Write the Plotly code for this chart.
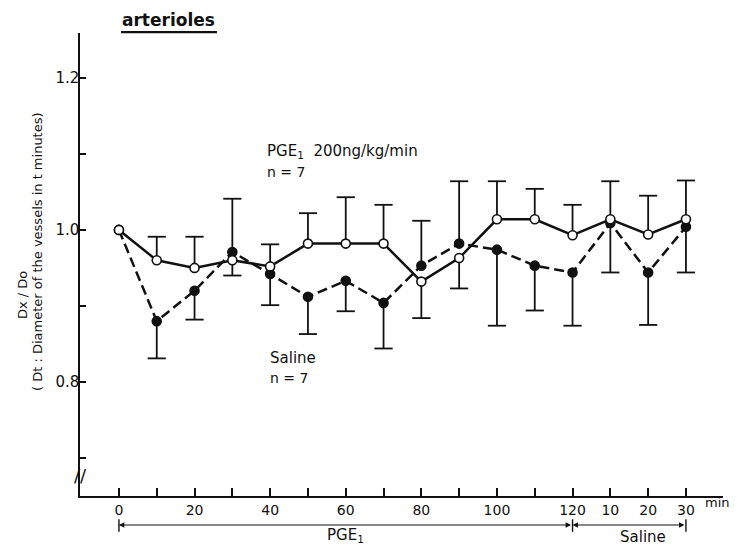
import plotly.graph_objects as go

# ---- data ----
time_min = [0, 10, 20, 30, 40, 50, 60, 70, 80, 90, 100, 110, 120, 130, 140, 150]
tick_vals = [0, 20, 40, 60, 80, 100, 120, 130, 140, 150]
tick_text = ["0", "20", "40", "60", "80", "100", "120", "10", "20", "30"]
minor_x = [10, 30, 50, 70, 90, 110]

pge_mean = [1.0, 0.96, 0.95, 0.96, 0.952, 0.982, 0.982, 0.982, 0.932, 0.963,
            1.014, 1.014, 0.993, 1.014, 0.994, 1.014]
pge_err_up = [0, 0.031, 0.041, 0, 0.029, 0.040, 0.061, 0.051, 0, 0,
              0.050, 0.040, 0.040, 0.050, 0.051, 0.051]
pge_err_down = [0, 0, 0, 0.020, 0, 0, 0, 0, 0.048, 0.040,
                0, 0, 0, 0, 0, 0]

sal_mean = [1.0, 0.88, 0.92, 0.971, 0.942, 0.912, 0.933, 0.904, 0.953, 0.982,
            0.974, 0.953, 0.944, 1.009, 0.944, 1.004]
sal_err_up = [0, 0, 0, 0.070, 0, 0, 0, 0, 0.059, 0.082,
              0, 0, 0, 0, 0, 0]
sal_err_down = [0, 0.049, 0.038, 0, 0.041, 0.049, 0.040, 0.060, 0, 0,
                0.100, 0.059, 0.070, 0.065, 0.069, 0.060]

FONT = "DejaVu Sans"
BLACK = "#111111"

fig = go.Figure()


def add_series(mean, up, down, dash, fill, name):
    fig.add_trace(go.Scatter(
        x=time_min, y=mean, mode="lines+markers", name=name,
        line=dict(color=BLACK, width=2.5, dash=dash),
        marker=dict(symbol="circle", size=9, color=fill,
                    line=dict(color=BLACK, width=1.6)),
        error_y=dict(type="data", symmetric=False, array=up, arrayminus=down,
                     color=BLACK, thickness=1.8, width=0),
        showlegend=False,
    ))


def add_caps(mean, up, down):
    cx, cy = [], []
    for t, m, u, d in zip(time_min, mean, up, down):
        if u > 0:
            cx.append(t)
            cy.append(m + u)
        if d > 0:
            cx.append(t)
            cy.append(m - d)
    fig.add_trace(go.Scatter(
        x=cx, y=cy, mode="markers", showlegend=False,
        marker=dict(symbol="line-ew", size=13, color=BLACK,
                    line=dict(color=BLACK, width=1.8)),
    ))


add_caps(sal_mean, sal_err_up, sal_err_down)
add_caps(pge_mean, pge_err_up, pge_err_down)
add_series(sal_mean, sal_err_up, sal_err_down, "10px,5px", BLACK, "Saline")
add_series(pge_mean, pge_err_up, pge_err_down, "solid", "white", "PGE1")

ann = []
tf = dict(family=FONT, size=15, color=BLACK)
nf = dict(family=FONT, size=14, color=BLACK)

# title
ann.append(dict(text="<b>arterioles</b>", xref="paper", yref="paper",
                x=0.137, y=1.028, showarrow=False, xanchor="center", yanchor="middle",
                font=dict(family=FONT, size=17, color=BLACK)))
# series labels
ann.append(dict(text="PGE<sub>1</sub>  200ng/kg/min", xref="paper", yref="paper",
                x=0.2877, y=0.743, showarrow=False, xanchor="left", yanchor="middle", font=tf))
ann.append(dict(text="n = 7", xref="paper", yref="paper",
                x=0.2877, y=0.700, showarrow=False, xanchor="left", yanchor="middle", font=nf))
ann.append(dict(text="Saline", xref="paper", yref="paper",
                x=0.2924, y=0.298, showarrow=False, xanchor="left", yanchor="middle", font=tf))
ann.append(dict(text="n = 7", xref="paper", yref="paper",
                x=0.2924, y=0.255, showarrow=False, xanchor="left", yanchor="middle", font=nf))
# y axis labels
yl = dict(family=FONT, size=13, color=BLACK)
ann.append(dict(text="Dx / Do", xref="paper", yref="paper", x=-0.0902, y=0.434,
                textangle=-90, showarrow=False, xanchor="center", yanchor="middle", font=yl))
ann.append(dict(text="( Dt : Diameter of the vessels in t minutes)", xref="paper", yref="paper",
                x=-0.0653, y=0.527, textangle=-90, showarrow=False,
                xanchor="center", yanchor="middle", font=yl))
# axis break
ann.append(dict(text="//", xref="paper", yref="paper", x=0.0, y=0.045,
                showarrow=False, xanchor="center", yanchor="middle",
                font=dict(family=FONT, size=18, color=BLACK)))
# min unit
ann.append(dict(text="min", xref="paper", yref="paper", x=0.992, y=-0.015,
                showarrow=False, xanchor="center", yanchor="middle",
                font=dict(family=FONT, size=13, color=BLACK)))

# period arrows
arrow_y = -0.0626
for x0, x1 in [(0, 120), (120, 150)]:
    ann.append(dict(text="", xref="x", yref="paper", x=x0, y=arrow_y,
                    axref="x", ax=x1, ayref="pixel", ay=0,
                    showarrow=True, arrowhead=2, arrowside="end+start",
                    arrowsize=0.9, arrowwidth=1.2, arrowcolor=BLACK))
for xb in [0, 120, 150]:
    ann.append(dict(text="", xref="x", yref="paper", x=xb, y=-0.050,
                    ax=0, ay=14, showarrow=True, arrowhead=0,
                    arrowwidth=1.4, arrowcolor=BLACK))
ann.append(dict(text="PGE<sub>1</sub>", xref="x", yref="paper", x=60, y=-0.086,
                showarrow=False, xanchor="center", yanchor="middle", font=tf))
ann.append(dict(text="Saline", xref="x", yref="paper", x=138.6, y=-0.088,
                showarrow=False, xanchor="center", yanchor="middle", font=tf))

# page has an 8px body margin, so the figure is sized/offset to compensate
fig.update_layout(
    width=729, height=539,
    margin=dict(l=72, r=14, t=25, b=51),
    paper_bgcolor="white", plot_bgcolor="white",
    annotations=ann,
    shapes=[dict(type="line", xref="paper", yref="paper",
                 x0=0.0638, x1=0.213, y0=1.002, y1=1.002,
                 line=dict(color=BLACK, width=2.2))],
    font=dict(family=FONT, color=BLACK),
)

fig.update_xaxes(
    range=[-10.3, 159.8], showgrid=False, zeroline=False,
    showline=True, linecolor=BLACK, linewidth=1.5,
    tickmode="array", tickvals=tick_vals, ticktext=tick_text,
    ticks="inside", ticklen=8, tickwidth=1.5, tickcolor=BLACK,
    tickfont=dict(family=FONT, size=14, color=BLACK),
    minor=dict(tickmode="array", tickvals=minor_x, ticks="inside",
               ticklen=8, tickwidth=1.5, tickcolor=BLACK, showgrid=False),
)
fig.update_yaxes(
    range=[0.65, 1.259], showgrid=False, zeroline=False,
    showline=True, linecolor=BLACK, linewidth=1.5,
    tickmode="array", tickvals=[0.8, 1.0, 1.2], ticktext=["0.8", "1.0", "1.2"],
    ticks="inside", ticklen=6, tickwidth=1.5, tickcolor=BLACK,
    tickfont=dict(family=FONT, size=15, color=BLACK),
    ticklabelstandoff=-4,
    minor=dict(tickmode="array", tickvals=[0.7, 0.9, 1.1], ticks="inside",
               ticklen=6, tickwidth=1.5, tickcolor=BLACK, showgrid=False),
)

fig.write_html("out.html")
